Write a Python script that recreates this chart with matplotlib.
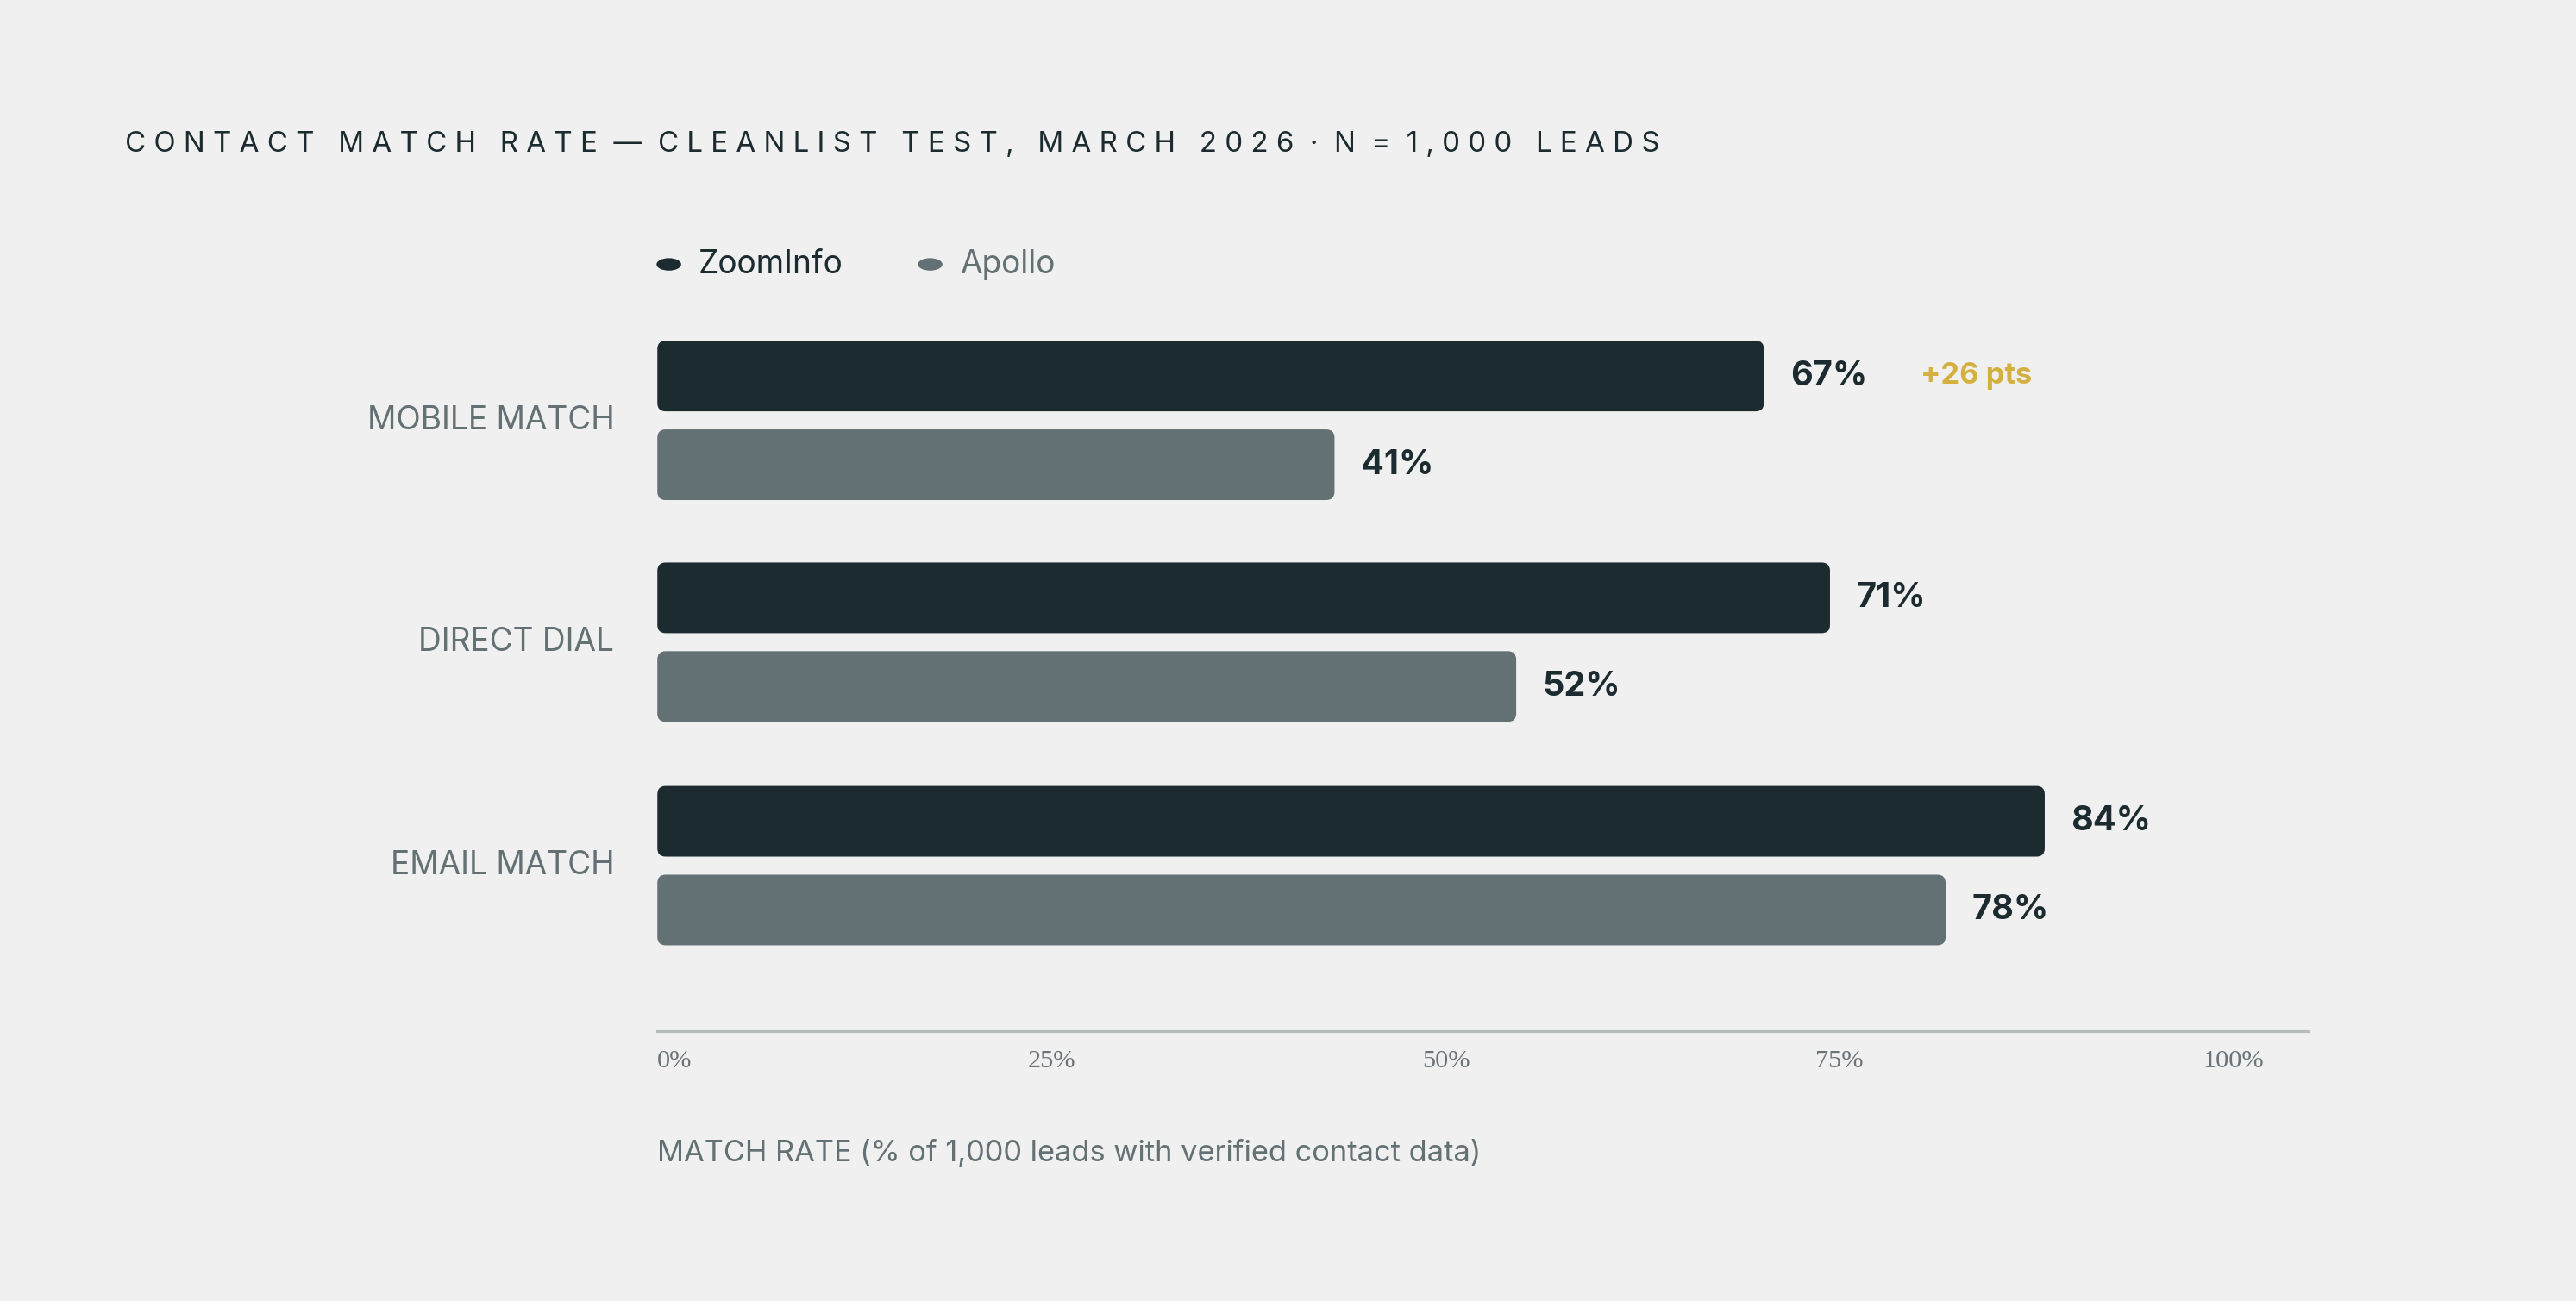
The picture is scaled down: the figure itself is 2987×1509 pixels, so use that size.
import matplotlib.pyplot as plt
from matplotlib.patches import FancyBboxPatch

categories = ["MOBILE MATCH", "DIRECT DIAL", "EMAIL MATCH"]
zoominfo = [67, 71, 84]
apollo = [41, 52, 78]
tick_labels = ["0%", "25%", "50%", "75%", "100%"]
tick_pos = [0, 22.4, 46.3, 70.1, 93.6]

BG = "#f0f0f0"
DARK = "#1b2b30"
GREY = "#637074"
GOLD = "#d4b13f"
FONT = "Inter"

W, H = 1568, 792
fig = plt.figure(figsize=(15.68, 7.92), dpi=190.56, facecolor=BG)
ax = fig.add_axes([400 / W, (H - 628) / H, 1005 / W, 438 / H])
ax.set_facecolor(BG)
ax.set_xlim(0, 100)
ax.set_ylim(628, 190)
for s in ["top", "right", "left"]:
    ax.spines[s].set_visible(False)
ax.spines["bottom"].set_color("#b8bcbd")
ax.spines["bottom"].set_linewidth(1.2)
ax.set_yticks([])
ax.set_xticks([])

px_per_unit = 1005 / 100
bar_h = 43
centers = [229, 364, 500]
for i, cat in enumerate(categories):
    for val, yc, col in [(zoominfo[i], centers[i], DARK), (apollo[i], centers[i] + 54, GREY)]:
        p = FancyBboxPatch((0, yc - bar_h / 2), val, bar_h,
                           boxstyle="round,pad=0,rounding_size=0.5",
                           mutation_aspect=px_per_unit, fc=col, ec="none")
        ax.add_patch(p)
        ax.text(val + 1.6, yc, f"{val}%", va="center", ha="left", fontsize=15,
                fontweight="bold", color=DARK, family=FONT)
    ax.text(-2.6, centers[i] + 27, cat, va="center", ha="right", fontsize=14,
            color=GREY, family=FONT)

diff = zoominfo[0] - apollo[0]
ax.text(zoominfo[0] + 9.5, centers[0], f"+{diff} pts", va="center", ha="left",
        fontsize=13, fontweight="bold", color=GOLD, family=FONT)

for lab, x in zip(tick_labels, tick_pos):
    ax.text(x, 646, lab, va="center", ha="left", fontsize=11.5, color="#6b7478",
            family="Liberation Serif", clip_on=False)

fig.text(400 / W, 1 - 702 / H, "MATCH RATE (% of 1,000 leads with verified contact data)",
         va="center", ha="left", fontsize=13, color=GREY, family=FONT)

fig.text(76 / W, 1 - 88 / H, "C O N T A C T   M A T C H   R A T E  —  C L E A N L I S T   T E S T ,   M A R C H   2 0 2 6  ·  N  =  1 , 0 0 0   L E A D S",
         va="center", ha="left", fontsize=12.5, color=DARK, family=FONT)

# legend
fig.patches.append(plt.Circle((407 / W, 1 - 161 / H), 7.5 / W, transform=fig.transFigure, fc=DARK))
fig.text(425 / W, 1 - 161 / H, "ZoomInfo", va="center", fontsize=14, color=DARK, family=FONT)
fig.patches.append(plt.Circle((566 / W, 1 - 161 / H), 7.5 / W, transform=fig.transFigure, fc=GREY))
fig.text(584 / W, 1 - 161 / H, "Apollo", va="center", fontsize=14, color=GREY, family=FONT)

fig.savefig("out.png", dpi=190.56, facecolor=BG)
